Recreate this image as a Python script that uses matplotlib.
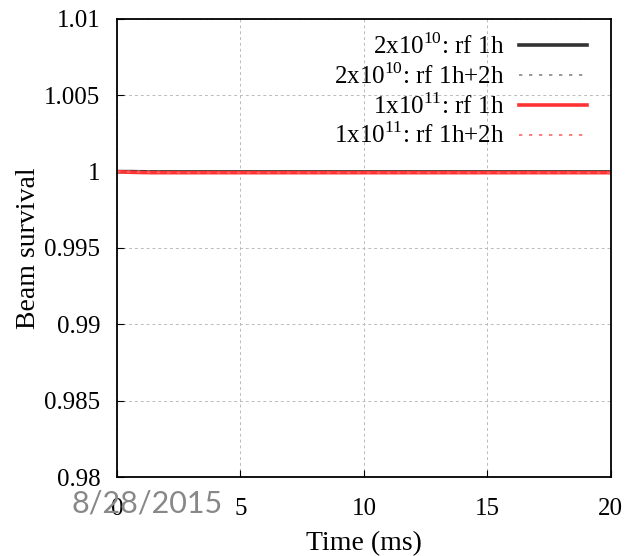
import matplotlib.pyplot as plt

plt.rcParams['font.family'] = ['Liberation Serif', 'DejaVu Serif']
plt.rcParams['mathtext.fontset'] = 'custom'
plt.rcParams['mathtext.rm'] = 'Liberation Serif'

# tiempo en ms y supervivencia del haz
t = [0, 0.5, 1.0, 1.5, 2.0, 5, 10, 15, 20]
s_2e10_1h = [1.0, 1.0, 0.99999, 0.99998, 0.99998, 0.99998, 0.99998, 0.99998, 0.99998]
s_2e10_12h = [1.00003, 1.00003, 1.00003, 1.00002, 0.99999, 0.99998, 0.99998, 0.99998, 0.99998]
s_1e11_1h = [1.0, 0.99996, 0.99994, 0.99993, 0.99993, 0.99993, 0.99993, 0.99993, 0.99993]
s_1e11_12h = [1.0, 0.99997, 0.99995, 0.99994, 0.99993, 0.99993, 0.99993, 0.99993, 0.99993]

labels = [r'2x10$^{10}$: rf 1h', r'2x10$^{10}$: rf 1h+2h',
          r'1x10$^{11}$: rf 1h', r'1x10$^{11}$: rf 1h+2h']
xticks = [0, 5, 10, 15, 20]
yticks = [0.98, 0.985, 0.99, 0.995, 1, 1.005, 1.01]
yticklabels = ['0.98', '0.985', '0.99', '0.995', '1', '1.005', '1.01']

fig = plt.figure(figsize=(6.31, 5.56), dpi=100)
ax = fig.add_axes([0.1854, 0.142, 0.7826, 0.824])

ax.plot(t, s_2e10_1h, color='#333333', lw=2.6, label=labels[0])
ax.plot(t, s_2e10_12h, color='#888888', lw=1.2, ls=(0, (2, 4)), label=labels[1])
ax.plot(t, s_1e11_1h, color='#ff3333', lw=2.6, label=labels[2])
ax.plot(t, s_1e11_12h, color='#ff6666', lw=1.2, ls=(0, (2, 4)), label=labels[3])

ax.set_xlim(0, 20)
ax.set_ylim(0.98, 1.01)
ax.set_xticks(xticks)
ax.set_yticks(yticks)
ax.set_yticklabels(yticklabels)
ax.grid(True, color='#bbbbbb', ls=(0, (3, 3)), lw=0.7)
ax.tick_params(direction='in', labelsize=18, length=5)
ax.tick_params(axis='x', pad=15)
ax.tick_params(axis='y', pad=12)
for sp in ax.spines.values():
    sp.set_linewidth(1.3)

ax.set_xlabel('Time (ms)', fontsize=20, labelpad=8)
ax.set_ylabel('Beam survival', fontsize=20, labelpad=2)

leg = ax.legend(loc='upper right', bbox_to_anchor=(0.9717, 0.99),
                frameon=False, markerfirst=False,
                fontsize=18, handlelength=2.7, labelspacing=0.16,
                borderaxespad=0.0, handletextpad=0.6)
for txt in leg.get_texts():
    txt.set_ha('right')

fig.text(0.114, 0.078, '8/28/2015', family='Lato', fontsize=22,
         color='#888888')

fig.savefig('out.png', dpi=100)
